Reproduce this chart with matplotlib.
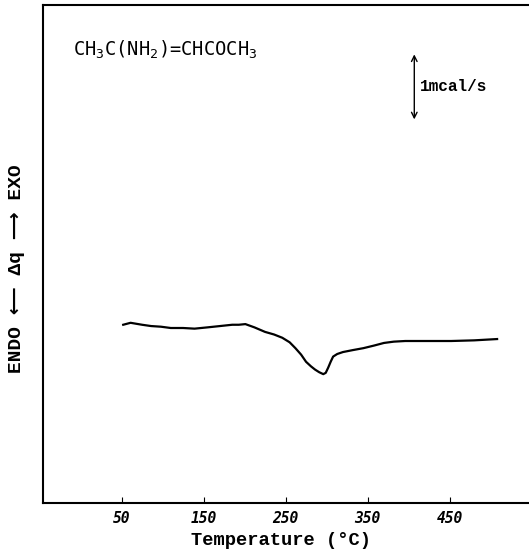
import numpy as np
import matplotlib.pyplot as plt

plt.rcParams['mathtext.default'] = 'regular'

# DSC trace (temperature in C, heat flow in mcal/s, arbitrary zero)
temp = [52, 61, 75, 86, 98, 110, 125, 139, 155, 170, 185, 193, 201, 212,
        225, 236, 246, 255, 262, 269, 275, 281, 286, 291, 296, 299, 302,
        305, 308, 313, 320, 332, 345, 358, 370, 382, 396, 410, 430, 452,
        480, 508]
heat = [2.74, 2.77, 2.74, 2.72, 2.71, 2.69, 2.69, 2.68, 2.70, 2.72, 2.74,
        2.74, 2.75, 2.70, 2.63, 2.59, 2.54, 2.47, 2.38, 2.28, 2.17, 2.10,
        2.05, 2.01, 1.98, 2.00, 2.08, 2.17, 2.25, 2.29, 2.32, 2.35, 2.38,
        2.42, 2.46, 2.48, 2.49, 2.49, 2.49, 2.49, 2.50, 2.52]

xticks = [50, 150, 250, 350, 450]

fig = plt.figure(figsize=(5.29, 5.55), dpi=100)
ax = fig.add_axes([0.081, 0.094, 0.93, 0.897])

ax.plot(temp, heat, color='black', lw=1.6)

ax.set_xlim(-46, 554)
ax.set_ylim(0, 7.66)
ax.set_xticks(xticks)
ax.set_xticklabels([str(t) for t in xticks], fontstyle='italic',
                   fontfamily='DejaVu Sans Mono', fontsize=10.5,
                   fontweight='bold')
ax.set_yticks([])
ax.tick_params(axis='x', direction='in', length=4, pad=6)
ax.spines['right'].set_visible(False)
for s in ['left', 'top', 'bottom']:
    ax.spines[s].set_linewidth(1.5)

ax.set_xlabel('Temperature (°C)', fontfamily='Liberation Mono', fontsize=13.5,
              fontweight='bold')
ax.xaxis.set_label_coords(0.484, -0.058)
ax.set_ylabel('ENDO \u27f5 \u0394q \u27f6 EXO',
              fontfamily=['Liberation Mono', 'DejaVu Sans'],
              fontsize=14, fontweight='bold')
ax.yaxis.set_label_coords(-0.036, 0.47)

ax.text(0.061, 0.91, r'CH$_3$C(NH$_2$)=CHCOCH$_3$', transform=ax.transAxes,
        fontfamily='DejaVu Sans Mono', fontsize=13.5, va='center')

# scale bar: 1 mcal/s
ax.annotate('', xy=(407, 6.9), xytext=(407, 5.9),
            arrowprops=dict(arrowstyle='<->', color='black', lw=1,
                            shrinkA=0, shrinkB=0))
ax.text(414, 6.4, '1mcal/s', fontfamily='Liberation Mono', fontsize=11.5,
        fontweight='bold', va='center')

fig.savefig('out.png', dpi=100)
